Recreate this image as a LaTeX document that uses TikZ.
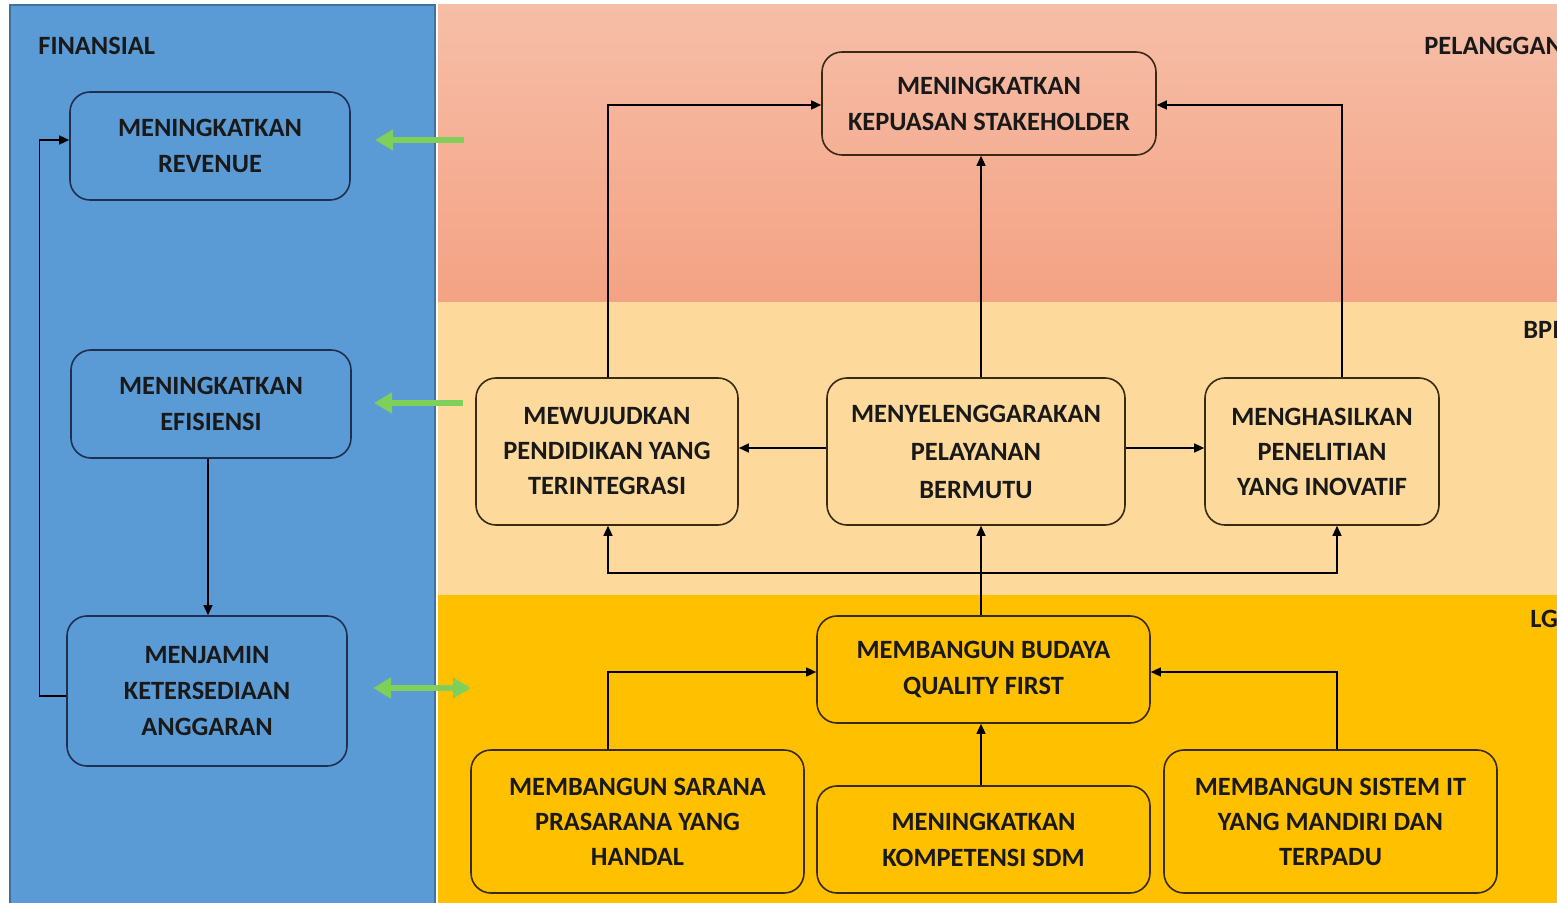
\documentclass[tikz,border=0pt]{standalone}
\usepackage{fontspec}
\setmainfont{Carlito}
\usetikzlibrary{arrows.meta,calc}
\definecolor{finblue}{HTML}{5B9BD5}
\definecolor{finedge}{HTML}{41719C}
\definecolor{pinktop}{HTML}{F6BEA7}
\definecolor{pinkbot}{HTML}{F4A284}
\definecolor{bpicol}{HTML}{FDDA9C}
\definecolor{lgcol}{HTML}{FFC000}
\definecolor{grn}{HTML}{7ED05A}
\definecolor{navy}{HTML}{1F2F4F}
\definecolor{brownline}{HTML}{3A2A12}
\begin{document}
\begin{tikzpicture}[x=0.5pt,y=-0.5pt,
  txt/.style={font=\fontsize{13.2pt}{18pt}\selectfont\bfseries, text=black!90},
  box/.style={txt, draw=brownline, line width=0.8pt, rounded corners=10pt, align=center, inner sep=0pt},
  bbox/.style={box, draw=navy},
  arr/.style={draw=black, line width=0.7pt, -{Triangle[length=5pt,width=4.5pt]}},
  garr/.style={draw=grn, line width=3.2pt, -{Triangle[length=9pt,width=10pt]}},
  garrb/.style={draw=grn, line width=3.2pt, {Triangle[length=9pt,width=10pt]}-{Triangle[length=9pt,width=10pt]}},
  band/.style={txt, anchor=west, inner sep=0pt}
]
\useasboundingbox (0,0) rectangle (1557,903);
\clip (0,0) rectangle (1557,903);
\fill[white] (0,0) rectangle (1557,903);
% backgrounds
\fill[finblue, draw=finedge, line width=0.6pt] (10,5) rectangle (435,910);
\shade[top color=pinktop, bottom color=pinkbot] (438,5) rectangle (1560,302);
\fill[bpicol] (438,302) rectangle (1560,595);
\fill[lgcol] (438,595) rectangle (1560,910);
% band labels
\node[band] (lfin) at (38,46) {FINANSIAL};
\node[band] (lpel) at (1424,46) {PELANGGAN};
\node[band] (lbpi) at (1523,330) {BPI};
\node[band] (llg) at (1530,619) {LG};
% finansial boxes
\node[bbox, minimum width=140pt, minimum height=54pt] (rev) at (210,146) {MENINGKATKAN\\REVENUE};
\node[bbox, minimum width=140pt, minimum height=54pt] (efi) at (211,404) {MENINGKATKAN\\EFISIENSI};
\node[bbox, minimum width=140pt, minimum height=75pt] (ang) at (207,691) {MENJAMIN\\KETERSEDIAAN\\ANGGARAN};
% pelanggan
\node[box, minimum width=167pt, minimum height=51.5pt] (kep) at (989,103.5) {MENINGKATKAN\\KEPUASAN STAKEHOLDER};
% bpi
\node[box, minimum width=131pt, minimum height=73.5pt, font=\fontsize{13.2pt}{17.5pt}\selectfont\bfseries] (mew) at (607,451.5) {MEWUJUDKAN\\PENDIDIKAN YANG\\TERINTEGRASI};
\node[box, minimum width=149pt, minimum height=73.5pt, font=\fontsize{13.2pt}{19pt}\selectfont\bfseries] (pel) at (976,451.5) {MENYELENGGARAKAN\\PELAYANAN\\BERMUTU};
\node[box, minimum width=117pt, minimum height=73.5pt, font=\fontsize{13.2pt}{17.5pt}\selectfont\bfseries] (has) at (1322,451.5) {MENGHASILKAN\\PENELITIAN\\YANG INOVATIF};
% lg
\node[box, minimum width=166.5pt, minimum height=53.5pt] (bud) at (983.5,669.5) {MEMBANGUN BUDAYA\\QUALITY FIRST};
\node[box, minimum width=166.5pt, minimum height=71.5pt, font=\fontsize{13.2pt}{17.5pt}\selectfont\bfseries] (sar) at (637.5,821.5) {MEMBANGUN SARANA\\PRASARANA YANG\\HANDAL};
\node[box, minimum width=166.5pt, minimum height=53.5pt] (kom) at (983.5,839.5) {MENINGKATKAN\\KOMPETENSI SDM};
\node[box, minimum width=166.5pt, minimum height=71.5pt, font=\fontsize{13.2pt}{17.5pt}\selectfont\bfseries] (sis) at (1330.5,821.5) {MEMBANGUN SISTEM IT\\YANG MANDIRI DAN\\TERPADU};
% connectors to kepuasan
\draw[arr] ([xshift=0.5pt]mew.north) |- ([yshift=-0.75pt]kep.west);
\draw[arr] ([xshift=2.5pt]pel.north) -- ([xshift=2.5pt]pel.north |- kep.south);
\draw[arr] ([xshift=10pt]has.north) |- ([yshift=-0.75pt]kep.east);
% within bpi
\draw[arr] ([yshift=1.75pt]pel.west) -- ([yshift=1.75pt]pel.west -| mew.east);
\draw[arr] ([yshift=1.75pt]pel.east) -- ([yshift=1.75pt]pel.east -| has.west);
% from budaya
\coordinate (j) at (981,573);
\draw[arr] ([xshift=-1.25pt]bud.north) -- ([xshift=-1.25pt]bud.north |- pel.south);
\draw[arr] (j) -| ([xshift=0.5pt]mew.south);
\draw[arr] (j) -| ([xshift=7.5pt]has.south);
% into budaya
\draw[arr] ([xshift=-14.75pt]sar.north) |- ([yshift=-1.25pt]bud.west);
\draw[arr] ([xshift=-1.25pt]kom.north) -- ([xshift=-1.25pt]kom.north |- bud.south);
\draw[arr] ([xshift=3.25pt]sis.north) |- ([yshift=-1.25pt]bud.east);
% finansial
\draw[arr] ([xshift=-1.5pt]efi.south) -- ([xshift=-1.5pt]efi.south |- ang.north);
\draw[arr] ([yshift=-2.5pt]ang.west) -- ++(-13.5pt,0) |- ([yshift=3pt]rev.west);
% green arrows
\coordinate (g1a) at (464,140); \coordinate (g1b) at (375,140);
\coordinate (g2a) at (463,403); \coordinate (g2b) at (374,403);
\coordinate (g3a) at (373,688); \coordinate (g3b) at (471,688);
\draw[garr] (g1a) -- (g1b);
\draw[garr] (g2a) -- (g2b);
\draw[garrb] (g3a) -- (g3b);
\end{tikzpicture}
\end{document}
